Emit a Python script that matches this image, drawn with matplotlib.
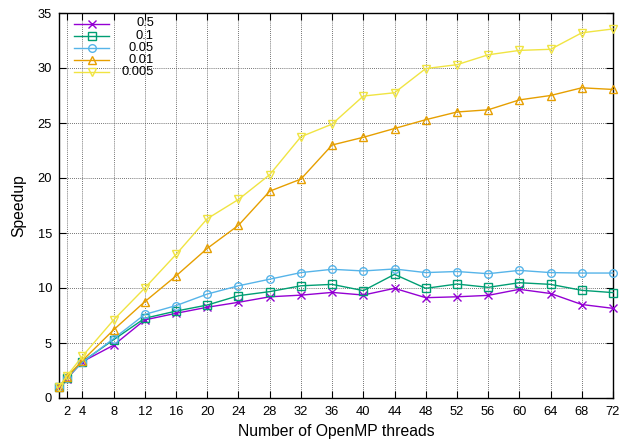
import matplotlib
matplotlib.use("Agg")
import matplotlib.pyplot as plt

plt.rcParams['font.family'] = ['Liberation Sans', 'DejaVu Sans']

threads = [1, 2, 4, 8, 12, 16, 20, 24, 28, 32, 36, 40, 44, 48, 52, 56, 60, 64, 68, 72]

speedup_05 = [1.0, 1.75, 3.3, 4.8, 7.1, 7.7, 8.25, 8.7, 9.2, 9.35, 9.6, 9.36, 9.97, 9.12,
              9.2, 9.33, 9.88, 9.5, 8.5, 8.15]
speedup_01 = [1.0, 1.8, 3.3, 5.3, 7.25, 7.9, 8.45, 9.3, 9.67, 10.2, 10.33, 9.76, 11.24, 9.97,
              10.36, 10.06, 10.48, 10.33, 9.79, 9.58]
speedup_005 = [1.0, 1.85, 3.25, 5.4, 7.6, 8.4, 9.45, 10.2, 10.8, 11.4, 11.7, 11.55, 11.73, 11.4,
               11.5, 11.3, 11.6, 11.4, 11.36, 11.36]
speedup_001 = [1.0, 1.9, 3.4, 6.2, 8.76, 11.1, 13.6, 15.7, 18.8, 19.9, 23.0, 23.7, 24.5, 25.3,
               26.0, 26.2, 27.1, 27.5, 28.2, 28.05]
speedup_0005 = [1.0, 2.0, 3.8, 7.1, 10.0, 13.05, 16.3, 18.05, 20.3, 23.75, 24.9, 27.45, 27.75, 29.95,
                30.3, 31.2, 31.6, 31.7, 33.2, 33.55]

labels = ["0.5", "0.1", "0.05", "0.01", "0.005"]
series = [speedup_05, speedup_01, speedup_005, speedup_001, speedup_0005]
colors = ["#9400d3", "#009e73", "#56b4e9", "#e69f00", "#f0e442"]
markers = ["x", "s", "o", "^", "v"]

xticks = [2, 4, 8, 12, 16, 20, 24, 28, 32, 36, 40, 44, 48, 52, 56, 60, 64, 68, 72]
yticks = [0, 5, 10, 15, 20, 25, 30, 35]

fig = plt.figure(figsize=(6.22, 4.42), dpi=100)
ax = fig.add_axes([59 / 622, 44 / 442, 554 / 622, 385 / 442])

for ys, c, m in zip(series, colors, markers):
    ax.plot(threads, ys, color=c, marker=m, markersize=5.5, markerfacecolor='none',
            markeredgecolor=c, markeredgewidth=1.0, linewidth=1.0, clip_on=False, zorder=3)

ax.set_xlim(1, 72)
ax.set_ylim(0, 35)
ax.set_xticks(xticks)
ax.set_yticks(yticks)
ax.tick_params(direction='in', top=True, right=True, length=5, width=0.8,
               labelsize=9.3, pad=5, colors='black')
ax.tick_params(axis='x', labeltop=False, pad=6)
ax.grid(True, color='#444444', linestyle=(0, (1, 1.5)), linewidth=0.6)
for s in ax.spines.values():
    s.set_linewidth(1.0)

ax.set_xlabel("Number of OpenMP threads", fontsize=11.3, labelpad=4)
ax.set_ylabel("Speedup", fontsize=11.3, labelpad=8)

# legend drawn by hand: sample on the left, right-aligned labels
x0, x1 = 15 / 554, 50 / 554
xt = 95 / 554
for i, (lab, c, m) in enumerate(zip(labels, colors, markers)):
    yy = 1 - (10.5 + 12.2 * i) / 385
    ax.plot([x0, (x0 + x1) / 2, x1], [yy, yy, yy], transform=ax.transAxes, color=c,
            marker=m, markevery=[1], markersize=5.5, markerfacecolor='none',
            markeredgecolor=c, linewidth=1.0, clip_on=False, zorder=4)
    ax.text(xt, yy, lab, transform=ax.transAxes, ha='right', va='center', fontsize=9.3)

fig.savefig("out.png", dpi=100)
